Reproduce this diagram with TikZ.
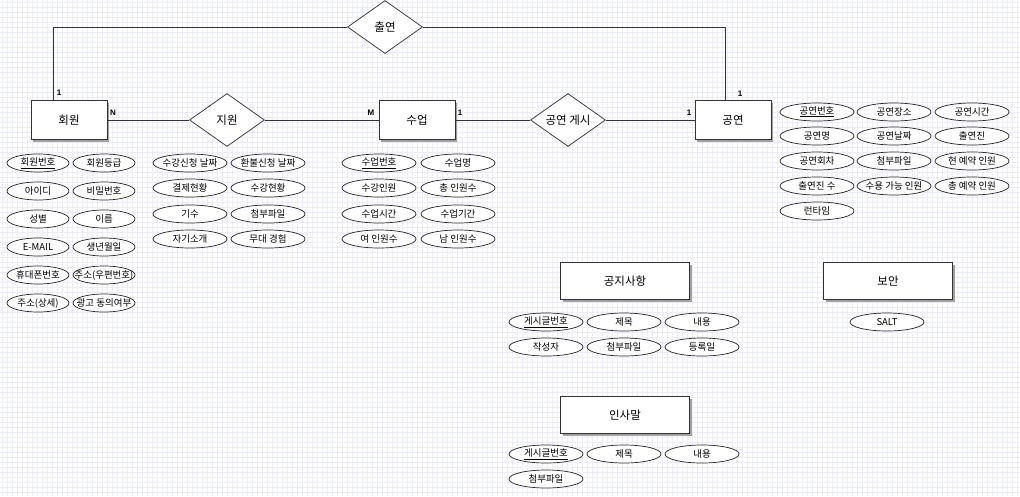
\documentclass[tikz,border=0pt]{standalone}
\usepackage{fontspec}
\setmainfont{Noto Sans CJK KR}
\newfontfamily\cardfont{Liberation Sans}
\usetikzlibrary{shapes.geometric}
\definecolor{gridc}{RGB}{236,236,252}
\definecolor{shadowc}{RGB}{160,160,160}
% attribute text keeps the ellipse size fixed, even when it is wider
\newcommand\attrlabel[1]{\makebox[0pt][c]{#1}}
\begin{document}
\begin{tikzpicture}[x=1pt,y=-1pt,
  entity/.style={draw=black!80,line width=0.8pt,fill=white,minimum width=76pt,minimum height=39pt,inner sep=0pt,font=\fontsize{11.5}{12}\selectfont},
  wide/.style={entity,minimum width=129pt,minimum height=37pt},
  rel/.style={draw=black!75,line width=0.8pt,fill=white,diamond,aspect=1.45,minimum width=75pt,minimum height=53pt,inner sep=0pt,font=\fontsize{11.5}{12}\selectfont},
  attr/.style={draw=black!85,line width=0.7pt,fill=white,ellipse,minimum width=74pt,minimum height=18pt,inner sep=0pt,font=\fontsize{9.5}{10}\selectfont},
  sattr/.style={attr,minimum width=62pt},
  conn/.style={draw=black!80,line width=0.8pt},
  card/.style={font=\cardfont\bfseries\fontsize{8}{9}\selectfont,inner sep=0pt}]
\useasboundingbox (0,0) rectangle (1020,496);
\fill[white] (0,0) rectangle (1020,496);
% background grid
\foreach \g in {2,7,...,1020} \draw[gridc,line width=0.8pt] (\g,0) -- (\g,496);
\foreach \g in {2,7,...,496} \draw[gridc,line width=0.8pt] (0,\g) -- (1020,\g);

% box shadows
\foreach \cx/\cy/\w/\h in {69/120/76/39, 417/120/76/39, 733/120/76/39, 625/281/129/37, 888/281/129/37, 625/415/129/37}
  \fill[shadowc] (\cx-\w/2+2,\cy-\h/2+2) rectangle (\cx+\w/2+2,\cy+\h/2+2);

% entities
\node[entity] (member) at (69,120) {회원};
\node[entity] (class) at (417,120) {수업};
\node[entity] (show) at (733,120) {공연};
\node[wide] (notice) at (625,281) {공지사항};
\node[wide] (security) at (888,281) {보안};
\node[wide] (greeting) at (625,415) {인사말};

% relationships
\node[rel] (apply) at (227,120) {지원};
\node[rel] (post) at (568,120) {공연 게시};
\node[rel] (appear) at (385,27) {출연};

% connectors
\coordinate (m1) at (53,27);
\coordinate (s1) at (725,27);
\draw[conn] (member.north -| m1) -- (m1) -- (appear.west);
\draw[conn] (appear.east) -- (s1) -- (show.north -| s1);
\draw[conn] (member.east) -- (apply.west);
\draw[conn] (apply.east) -- (class.west);
\draw[conn] (class.east) -- (post.west);
\draw[conn] (post.east) -- (show.west);

% cardinalities
\node[card] (c1) at (59,93) {1};
\node[card] (c2) at (113,113) {N};
\node[card] (c3) at (371,113) {M};
\node[card] (c4) at (460,113) {1};
\node[card] (c5) at (689,113) {1};
\node[card] (c6) at (740,94) {1};

% member attributes
\node[sattr] (a1) at (38,163) {\attrlabel{\underline{회원번호}}};
\node[sattr] (a2) at (104,163) {\attrlabel{회원등급}};
\node[sattr] (a3) at (38,191) {\attrlabel{아이디}};
\node[sattr] (a4) at (104,191) {\attrlabel{비밀번호}};
\node[sattr] (a5) at (38,219) {\attrlabel{성별}};
\node[sattr] (a6) at (104,219) {\attrlabel{이름}};
\node[sattr] (a7) at (38,247) {\attrlabel{E-MAIL}};
\node[sattr] (a8) at (104,247) {\attrlabel{생년월일}};
\node[sattr] (a9) at (38,275) {\attrlabel{휴대폰번호}};
\node[sattr] (a10) at (104,275) {\attrlabel{주소(우편번호)}};
\node[sattr] (a11) at (38,303) {\attrlabel{주소(상세)}};
\node[sattr] (a12) at (104,303) {\attrlabel{광고 동의여부}};

% application attributes
\node[attr] (b1) at (190,163) {\attrlabel{수강신청 날짜}};
\node[attr] (b2) at (268,163) {\attrlabel{환불신청 날짜}};
\node[attr] (b3) at (190,188) {\attrlabel{결제현황}};
\node[attr] (b4) at (268,188) {\attrlabel{수강현황}};
\node[attr] (b5) at (190,214) {\attrlabel{기수}};
\node[attr] (b6) at (268,214) {\attrlabel{첨부파일}};
\node[attr] (b7) at (190,239) {\attrlabel{자기소개}};
\node[attr] (b8) at (268,239) {\attrlabel{무대 경험}};

% class attributes
\node[attr] (d1) at (379,163) {\attrlabel{\underline{수업번호}}};
\node[attr] (d2) at (458,163) {\attrlabel{수업명}};
\node[attr] (d3) at (379,188) {\attrlabel{수강인원}};
\node[attr] (d4) at (458,188) {\attrlabel{총 인원수}};
\node[attr] (d5) at (379,214) {\attrlabel{수업시간}};
\node[attr] (d6) at (458,214) {\attrlabel{수업기간}};
\node[attr] (d7) at (379,239) {\attrlabel{여 인원수}};
\node[attr] (d8) at (458,239) {\attrlabel{남 인원수}};

% show attributes
\node[attr] (e1) at (817,112) {\attrlabel{\underline{공연번호}}};
\node[attr] (e2) at (894,112) {\attrlabel{공연장소}};
\node[attr] (e3) at (972,112) {\attrlabel{공연시간}};
\node[attr] (e4) at (817,136) {\attrlabel{공연명}};
\node[attr] (e5) at (894,136) {\attrlabel{공연날짜}};
\node[attr] (e6) at (972,136) {\attrlabel{출연진}};
\node[attr] (e7) at (817,161) {\attrlabel{공연회차}};
\node[attr] (e8) at (894,161) {\attrlabel{첨부파일}};
\node[attr] (e9) at (972,161) {\attrlabel{현 예약 인원}};
\node[attr] (e10) at (817,186) {\attrlabel{출연진 수}};
\node[attr] (e11) at (894,186) {\attrlabel{수용 가능 인원}};
\node[attr] (e12) at (972,186) {\attrlabel{총 예약 인원}};
\node[attr] (e13) at (817,211) {\attrlabel{런타임}};

% notice attributes
\node[attr] (f1) at (546,322) {\attrlabel{\underline{게시글번호}}};
\node[attr] (f2) at (624,322) {\attrlabel{제목}};
\node[attr] (f3) at (702,322) {\attrlabel{내용}};
\node[attr] (f4) at (546,347) {\attrlabel{작성자}};
\node[attr] (f5) at (624,347) {\attrlabel{첨부파일}};
\node[attr] (f6) at (702,347) {\attrlabel{등록일}};

% security attribute
\node[attr] (g1) at (887,322) {\attrlabel{SALT}};

% greeting attributes
\node[attr] (h1) at (546,454) {\attrlabel{\underline{게시글번호}}};
\node[attr] (h2) at (624,454) {\attrlabel{제목}};
\node[attr] (h3) at (702,454) {\attrlabel{내용}};
\node[attr] (h4) at (546,479) {\attrlabel{첨부파일}};
\end{tikzpicture}
\end{document}
